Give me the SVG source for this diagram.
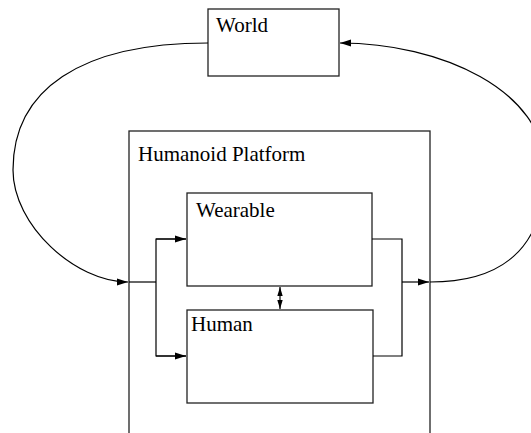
<svg xmlns="http://www.w3.org/2000/svg" width="531" height="433" viewBox="0 0 531 433">
<defs>
<style>
.box{fill:#fff;stroke:#222;stroke-width:1.3}
.lbl{font-family:"Liberation Serif","Times New Roman",serif;font-size:21px;fill:#000}
.con{fill:none;stroke:#000;stroke-width:1.2}
</style>
<marker id="ah" markerUnits="userSpaceOnUse" markerWidth="12" markerHeight="8" refX="11" refY="4" orient="auto-start-reverse">
<path d="M0,0.5 L11,4 L0,7.5 Z" fill="#000"/>
</marker>
<marker id="ahs" markerUnits="userSpaceOnUse" markerWidth="10" markerHeight="6" refX="9" refY="3" orient="auto-start-reverse">
<path d="M0,0.3 L9,3 L0,5.7 Z" fill="#000"/>
</marker>
</defs>
<rect width="531" height="433" fill="#fff"/>
<g id="platform">
<rect class="box" x="129" y="131" width="301" height="320"/>
<text class="lbl" x="138" y="161">Humanoid Platform</text>
</g>
<g id="world">
<rect class="box" x="208" y="9" width="131" height="67"/>
<text class="lbl" x="216" y="32">World</text>
</g>
<g id="wearable">
<rect class="box" x="187" y="193" width="185" height="93"/>
<text class="lbl" x="196" y="217">Wearable</text>
</g>
<g id="human">
<rect class="box" x="187" y="310" width="186" height="93"/>
<text class="lbl" x="191" y="331">Human</text>
</g>
<g id="connectors">
<path class="con" d="M208,43 C80,43 13,90 13,170 C13,225 75,282 128,282" marker-end="url(#ah)"/>
<path class="con" d="M430,282 C500,282 545,250 545,170 C545,90 440,43 340,43" marker-end="url(#ah)"/>
<path class="con" d="M129,282 H156"/>
<path class="con" d="M186,239 H156 V356 H186"/>
<path class="con" d="M156,239 H186" marker-end="url(#ah)"/>
<path class="con" d="M156,356 H186" marker-end="url(#ah)"/>
<path class="con" d="M372,239 H402 V356 H373"/>
<path class="con" d="M402,282 H429" marker-end="url(#ah)"/>
<path class="con" d="M280,287 V309" marker-start="url(#ahs)" marker-end="url(#ahs)"/>
</g>
</svg>
